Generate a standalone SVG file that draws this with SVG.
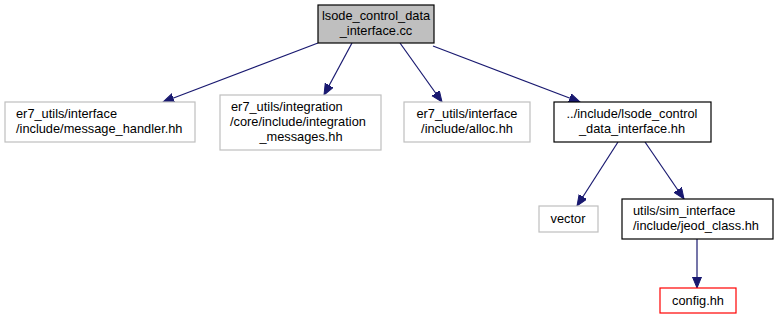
<svg xmlns="http://www.w3.org/2000/svg" width="779" height="320" viewBox="0 0 779 320">
  <style>
    text { font-family: "Liberation Sans", Arial, Helvetica, sans-serif; font-size: 12.8px; fill: #000; }
    .box { fill: #fff; stroke-width: 1.2; }
    .gray { stroke: #bfbfbf; }
    .dark { stroke: #000; }
    .red { stroke: #ff0000; }
    .root { fill: #bfbfbf; stroke: #000; stroke-width: 1.2; }
    .edge { fill: none; stroke: #191970; stroke-width: 1.2; }
    .mid { text-anchor: middle; }
  </style>
  <defs>
    <marker id="arrow" markerUnits="userSpaceOnUse" markerWidth="12" markerHeight="10" refX="11" refY="4.5" orient="auto">
      <polygon points="0,0 11,4.5 0,9" fill="#191970" stroke="#191970" stroke-width="1"/>
    </marker>
  </defs>

  <g id="connectors">
    <path class="edge" d="M318,43 L163,102" marker-end="url(#arrow)"/>
    <path class="edge" d="M352,43 L324,95" marker-end="url(#arrow)"/>
    <path class="edge" d="M400,43 L442,102" marker-end="url(#arrow)"/>
    <path class="edge" d="M433,46 L580,102" marker-end="url(#arrow)"/>
    <path class="edge" d="M618,142 L577,206" marker-end="url(#arrow)"/>
    <path class="edge" d="M645,142 L684,199" marker-end="url(#arrow)"/>
    <path class="edge" d="M697,239 L697,288" marker-end="url(#arrow)"/>
  </g>

  <g id="node-root">
    <rect class="root" x="318" y="5" width="116" height="38"/>
    <text class="mid" x="376" y="20">lsode_control_data</text>
    <text class="mid" x="376" y="35">_interface.cc</text>
  </g>

  <g id="node-message-handler">
    <rect class="box gray" x="5" y="102" width="190" height="40"/>
    <text x="16" y="118">er7_utils/interface</text>
    <text x="16" y="133">/include/message_handler.hh</text>
  </g>

  <g id="node-integration-messages">
    <rect class="box gray" x="220" y="95" width="161" height="55"/>
    <text x="231" y="111">er7_utils/integration</text>
    <text x="230" y="126">/core/include/integration</text>
    <text class="mid" x="301" y="141">_messages.hh</text>
  </g>

  <g id="node-alloc">
    <rect class="box gray" x="404" y="102" width="126" height="40"/>
    <text class="mid" x="467" y="118">er7_utils/interface</text>
    <text class="mid" x="467" y="133">/include/alloc.hh</text>
  </g>

  <g id="node-lsode-header">
    <rect class="box dark" x="554" y="102" width="157" height="40"/>
    <text class="mid" x="632" y="118">../include/lsode_control</text>
    <text class="mid" x="632" y="133">_data_interface.hh</text>
  </g>

  <g id="node-vector">
    <rect class="box gray" x="539" y="206" width="59" height="26"/>
    <text class="mid" x="568" y="223">vector</text>
  </g>

  <g id="node-jeod-class">
    <rect class="box dark" x="622" y="199" width="151" height="40"/>
    <text x="633" y="215">utils/sim_interface</text>
    <text x="633" y="230">/include/jeod_class.hh</text>
  </g>

  <g id="node-config">
    <rect class="box red" x="660" y="288" width="76" height="25"/>
    <text class="mid" x="698" y="305">config.hh</text>
  </g>
</svg>
